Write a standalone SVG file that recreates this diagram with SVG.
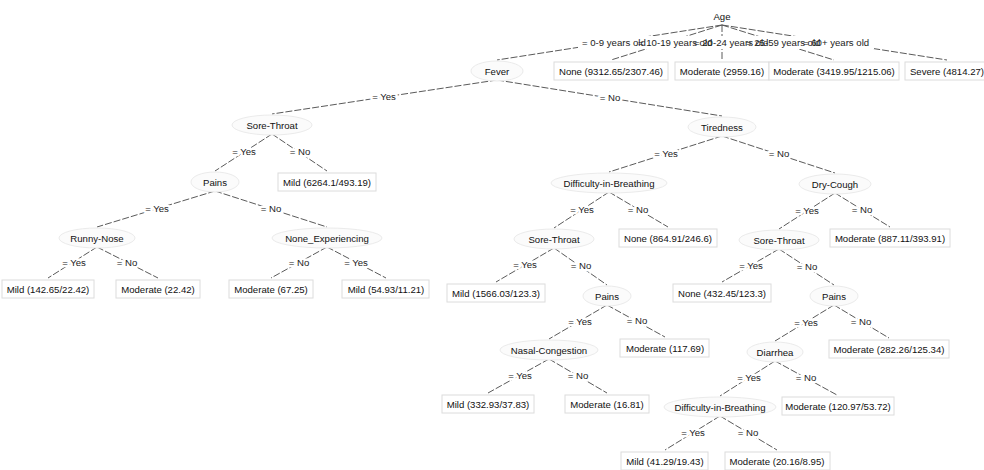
<svg xmlns="http://www.w3.org/2000/svg" width="984" height="470" viewBox="0 0 984 470">
<style>
text{font-family:"Liberation Sans",Arial,sans-serif;font-size:9.6px;fill:#111;text-anchor:middle}
.el{fill:#222}
.halo{stroke:#fff;stroke-width:5;paint-order:stroke;stroke-linejoin:round}
.age{text-anchor:start;fill:#222}
.edge line{stroke:#5a5a5a;stroke-width:1;stroke-dasharray:7 2}
.node ellipse{fill:#fbfbfb;stroke:#ebebeb;stroke-width:1}
.leaf rect{fill:#fff;stroke:#dcdcdc;stroke-width:1}
</style>
<rect width="984" height="470" fill="#fff"/>
<g id="connectors" class="edge">
<line x1="722" y1="25" x2="497" y2="60"/>
<line x1="722" y1="25" x2="611" y2="60"/>
<line x1="722" y1="25" x2="722" y2="60"/>
<line x1="722" y1="25" x2="834" y2="60"/>
<line x1="722" y1="25" x2="947" y2="60"/>
<line x1="497" y1="80" x2="272" y2="114"/>
<line x1="497" y1="80" x2="722" y2="116"/>
<line x1="272" y1="134" x2="215" y2="171"/>
<line x1="272" y1="134" x2="327" y2="171"/>
<line x1="215" y1="191" x2="97" y2="227"/>
<line x1="215" y1="191" x2="327" y2="227"/>
<line x1="97" y1="247" x2="48" y2="278"/>
<line x1="97" y1="247" x2="158" y2="278"/>
<line x1="327" y1="247" x2="271" y2="278"/>
<line x1="327" y1="247" x2="386" y2="278"/>
<line x1="722" y1="136" x2="609" y2="172"/>
<line x1="722" y1="136" x2="835" y2="173"/>
<line x1="609" y1="192" x2="554" y2="228"/>
<line x1="609" y1="192" x2="668" y2="227"/>
<line x1="835" y1="193" x2="779" y2="229"/>
<line x1="835" y1="193" x2="890" y2="227"/>
<line x1="554" y1="248" x2="496" y2="282"/>
<line x1="554" y1="248" x2="607" y2="285"/>
<line x1="779" y1="249" x2="722" y2="282"/>
<line x1="779" y1="249" x2="834" y2="285"/>
<line x1="607" y1="305" x2="549" y2="339"/>
<line x1="607" y1="305" x2="665" y2="337"/>
<line x1="834" y1="305" x2="775" y2="341"/>
<line x1="834" y1="305" x2="889" y2="338"/>
<line x1="549" y1="359" x2="488" y2="393"/>
<line x1="549" y1="359" x2="607" y2="393"/>
<line x1="775" y1="361" x2="720" y2="396"/>
<line x1="775" y1="361" x2="837" y2="395"/>
<line x1="720" y1="416" x2="665" y2="450"/>
<line x1="720" y1="416" x2="777" y2="450"/>
</g>
<g id="edge-labels">
<rect x="578" y="36" width="296" height="13" fill="#fff"/>
<text class="age" x="582" y="46">= 0-9 years old</text>
<text class="age" x="638" y="46">= 10-19 years old</text>
<text class="age" x="694" y="46">= 20-24 years old</text>
<text class="age" x="746" y="46">= 25-59 years old</text>
<text class="age" x="803" y="46">= 60+ years old</text>
<text class="el halo" x="384" y="100">= Yes</text>
<text class="el halo" x="610" y="101">= No</text>
<text class="el halo" x="244" y="155">= Yes</text>
<text class="el halo" x="300" y="155">= No</text>
<text class="el halo" x="157" y="212">= Yes</text>
<text class="el halo" x="271" y="212">= No</text>
<text class="el halo" x="74" y="266">= Yes</text>
<text class="el halo" x="127" y="266">= No</text>
<text class="el halo" x="299" y="266">= No</text>
<text class="el halo" x="356" y="266">= Yes</text>
<text class="el halo" x="666" y="157">= Yes</text>
<text class="el halo" x="779" y="157">= No</text>
<text class="el halo" x="582" y="213">= Yes</text>
<text class="el halo" x="638" y="213">= No</text>
<text class="el halo" x="807" y="214">= Yes</text>
<text class="el halo" x="862" y="213">= No</text>
<text class="el halo" x="525" y="268">= Yes</text>
<text class="el halo" x="581" y="269">= No</text>
<text class="el halo" x="751" y="269">= Yes</text>
<text class="el halo" x="807" y="270">= No</text>
<text class="el halo" x="580" y="325">= Yes</text>
<text class="el halo" x="637" y="324">= No</text>
<text class="el halo" x="806" y="326">= Yes</text>
<text class="el halo" x="861" y="325">= No</text>
<text class="el halo" x="520" y="379">= Yes</text>
<text class="el halo" x="578" y="379">= No</text>
<text class="el halo" x="749" y="381">= Yes</text>
<text class="el halo" x="806" y="381">= No</text>
<text class="el halo" x="693" y="436">= Yes</text>
<text class="el halo" x="748" y="436">= No</text>
</g>
<g id="n-age" class="node"><text x="722" y="19.5">Age</text></g>
<g id="n-fever" class="node"><ellipse cx="497" cy="71" rx="26" ry="10"/><text x="497" y="74.5">Fever</text></g>
<g id="n-sore1" class="node"><ellipse cx="272" cy="125" rx="40" ry="10"/><text x="272" y="128.5">Sore-Throat</text></g>
<g id="n-tired" class="node"><ellipse cx="722" cy="127" rx="34" ry="10"/><text x="722" y="130.5">Tiredness</text></g>
<g id="n-pains1" class="node"><ellipse cx="215" cy="182" rx="24" ry="10"/><text x="215" y="185.5">Pains</text></g>
<g id="n-runny" class="node"><ellipse cx="97" cy="238" rx="38" ry="10"/><text x="97" y="241.5">Runny-Nose</text></g>
<g id="n-noneexp" class="node"><ellipse cx="327" cy="238" rx="55" ry="10"/><text x="327" y="241.5">None_Experiencing</text></g>
<g id="n-dib1" class="node"><ellipse cx="609" cy="183" rx="58" ry="10"/><text x="609" y="186.5">Difficulty-in-Breathing</text></g>
<g id="n-dry" class="node"><ellipse cx="835" cy="184" rx="36" ry="10"/><text x="835" y="187.5">Dry-Cough</text></g>
<g id="n-sore2" class="node"><ellipse cx="554" cy="239" rx="40" ry="10"/><text x="554" y="242.5">Sore-Throat</text></g>
<g id="n-sore3" class="node"><ellipse cx="779" cy="240" rx="40" ry="10"/><text x="779" y="243.5">Sore-Throat</text></g>
<g id="n-pains2" class="node"><ellipse cx="607" cy="296" rx="24" ry="10"/><text x="607" y="299.5">Pains</text></g>
<g id="n-pains3" class="node"><ellipse cx="834" cy="296" rx="24" ry="10"/><text x="834" y="299.5">Pains</text></g>
<g id="n-nasal" class="node"><ellipse cx="549" cy="350" rx="49" ry="10"/><text x="549" y="353.5">Nasal-Congestion</text></g>
<g id="n-diar" class="node"><ellipse cx="775" cy="352" rx="28" ry="10"/><text x="775" y="355.5">Diarrhea</text></g>
<g id="n-dib2" class="node"><ellipse cx="720" cy="407" rx="56" ry="10"/><text x="720" y="410.5">Difficulty-in-Breathing</text></g>
<g id="l-none1" class="leaf"><rect x="554" y="62" width="114" height="18"/><text x="611" y="74.5">None (9312.65/2307.46)</text></g>
<g id="l-mod1" class="leaf"><rect x="675" y="62" width="94" height="18"/><text x="722" y="74.5">Moderate (2959.16)</text></g>
<g id="l-mod2" class="leaf"><rect x="769" y="62" width="130" height="18"/><text x="834" y="74.5">Moderate (3419.95/1215.06)</text></g>
<g id="l-sev" class="leaf"><rect x="905" y="62" width="84" height="18"/><text x="947" y="74.5">Severe (4814.27)</text></g>
<g id="l-mild1" class="leaf"><rect x="278" y="173" width="98" height="18"/><text x="327" y="185.5">Mild (6264.1/493.19)</text></g>
<g id="l-mild2" class="leaf"><rect x="2" y="280" width="92" height="18"/><text x="48" y="292.5">Mild (142.65/22.42)</text></g>
<g id="l-mod3" class="leaf"><rect x="116" y="280" width="84" height="18"/><text x="158" y="292.5">Moderate (22.42)</text></g>
<g id="l-mod4" class="leaf"><rect x="229" y="280" width="84" height="18"/><text x="271" y="292.5">Moderate (67.25)</text></g>
<g id="l-mild3" class="leaf"><rect x="342" y="280" width="87" height="18"/><text x="386" y="292.5">Mild (54.93/11.21)</text></g>
<g id="l-none2" class="leaf"><rect x="619" y="229" width="98" height="18"/><text x="668" y="241.5">None (864.91/246.6)</text></g>
<g id="l-mod5" class="leaf"><rect x="830" y="229" width="120" height="18"/><text x="890" y="241.5">Moderate (887.11/393.91)</text></g>
<g id="l-mild4" class="leaf"><rect x="447" y="284" width="98" height="18"/><text x="496" y="296.5">Mild (1566.03/123.3)</text></g>
<g id="l-none3" class="leaf"><rect x="673" y="284" width="98" height="18"/><text x="722" y="296.5">None (432.45/123.3)</text></g>
<g id="l-mod6" class="leaf"><rect x="620" y="339" width="89" height="18"/><text x="665" y="351.5">Moderate (117.69)</text></g>
<g id="l-mod7" class="leaf"><rect x="829" y="340" width="120" height="18"/><text x="889" y="352.5">Moderate (282.26/125.34)</text></g>
<g id="l-mild5" class="leaf"><rect x="442" y="395" width="92" height="18"/><text x="488" y="407.5">Mild (332.93/37.83)</text></g>
<g id="l-mod8" class="leaf"><rect x="565" y="395" width="84" height="18"/><text x="607" y="407.5">Moderate (16.81)</text></g>
<g id="l-mod9" class="leaf"><rect x="782" y="397" width="112" height="18"/><text x="838" y="409.5">Moderate (120.97/53.72)</text></g>
<g id="l-mild6" class="leaf"><rect x="621" y="452" width="87" height="18"/><text x="665" y="464.5">Mild (41.29/19.43)</text></g>
<g id="l-mod10" class="leaf"><rect x="725" y="452" width="105" height="18"/><text x="777" y="464.5">Moderate (20.16/8.95)</text></g>
</svg>
